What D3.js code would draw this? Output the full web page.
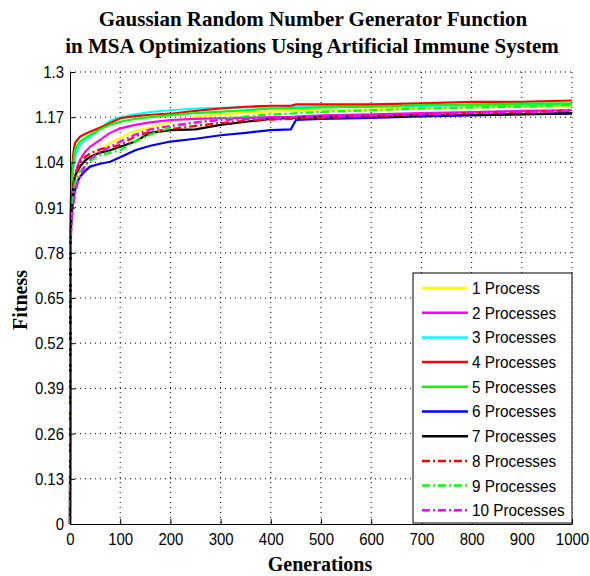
<!DOCTYPE html>
<html>
<head>
<meta charset="utf-8">
<script src="https://cdn.jsdelivr.net/npm/d3@7"></script>
<style>
  body { margin: 0; background: #fff; }
  .tick text, .leg text { font-family: "Liberation Sans", Arial, sans-serif; }
  .ttl { font-family: "Liberation Serif", "Times New Roman", serif; font-weight: bold; }
</style>
</head>
<body>
<svg id="chart" width="590" height="576"></svg>
<script>
const generations = [0, 1, 2, 4, 7, 10, 15, 20, 30, 40, 60, 80, 100, 130, 160, 200, 250, 300, 350, 400, 440, 450, 500, 600, 700, 800, 900, 1000];

const p1  = [0, 0.84, 0.88, 0.93, 0.97, 0.99, 1.01, 1.03, 1.045, 1.055, 1.075, 1.095, 1.11, 1.13, 1.14, 1.157, 1.17, 1.178, 1.183, 1.186, 1.188, 1.188, 1.19, 1.192, 1.195, 1.198, 1.2, 1.203];
const p2  = [0, 0.8, 0.86, 0.92, 0.97, 1.0, 1.03, 1.047, 1.07, 1.085, 1.105, 1.125, 1.138, 1.148, 1.155, 1.162, 1.165, 1.167, 1.168, 1.17, 1.17, 1.172, 1.175, 1.178, 1.182, 1.185, 1.188, 1.19];
const p3  = [0, 0.88, 0.93, 0.98, 1.03, 1.056, 1.075, 1.09, 1.105, 1.114, 1.135, 1.16, 1.17, 1.178, 1.185, 1.19, 1.195, 1.197, 1.198, 1.2, 1.2, 1.2, 1.201, 1.202, 1.203, 1.204, 1.205, 1.206];
const p4  = [0, 0.87, 0.95, 1.02, 1.07, 1.096, 1.105, 1.114, 1.122, 1.128, 1.14, 1.153, 1.167, 1.173, 1.177, 1.18, 1.188, 1.195, 1.2, 1.203, 1.203, 1.207, 1.207, 1.207, 1.21, 1.214, 1.214, 1.218];
const p5  = [0, 0.85, 0.93, 0.99, 1.04, 1.075, 1.09, 1.1, 1.11, 1.119, 1.135, 1.148, 1.157, 1.165, 1.17, 1.176, 1.182, 1.186, 1.19, 1.195, 1.196, 1.196, 1.198, 1.2, 1.205, 1.207, 1.209, 1.21];
const p6  = [0, 0.8, 0.85, 0.9, 0.94, 0.96, 0.985, 0.999, 1.015, 1.028, 1.036, 1.042, 1.055, 1.075, 1.088, 1.1, 1.108, 1.118, 1.125, 1.133, 1.135, 1.162, 1.165, 1.168, 1.172, 1.175, 1.178, 1.18];
const p7  = [0, 0.82, 0.87, 0.93, 0.98, 1.0, 1.015, 1.028, 1.045, 1.056, 1.068, 1.075, 1.085, 1.1, 1.125, 1.133, 1.135, 1.148, 1.157, 1.165, 1.168, 1.168, 1.17, 1.173, 1.175, 1.177, 1.179, 1.182];
const p8  = [0, 0.83, 0.88, 0.93, 0.98, 1.0, 1.02, 1.04, 1.055, 1.066, 1.078, 1.085, 1.09, 1.115, 1.128, 1.135, 1.145, 1.153, 1.16, 1.163, 1.165, 1.166, 1.168, 1.172, 1.178, 1.182, 1.185, 1.19];
const p9  = [0, 0.8, 0.85, 0.9, 0.95, 0.98, 1.0, 1.015, 1.03, 1.045, 1.06, 1.068, 1.075, 1.1, 1.12, 1.14, 1.155, 1.165, 1.172, 1.178, 1.18, 1.182, 1.185, 1.19, 1.195, 1.198, 1.2, 1.205];
const p10 = [0, 0.78, 0.83, 0.88, 0.92, 0.95, 0.98, 1.0, 1.03, 1.05, 1.07, 1.085, 1.1, 1.12, 1.135, 1.145, 1.155, 1.162, 1.165, 1.168, 1.17, 1.17, 1.172, 1.175, 1.178, 1.182, 1.185, 1.188];

const seriesNames = ["1 Process", "2 Processes", "3 Processes", "4 Processes", "5 Processes",
                     "6 Processes", "7 Processes", "8 Processes", "9 Processes", "10 Processes"];
const seriesColors = ["#ffff00", "#ff00ff", "#00ffff", "#ff0000", "#00ff00",
                      "#0000ff", "#000000", "#ff0000", "#00ff00", "#ff00ff"];
const seriesDash = [null, null, null, null, null, null, null, "8,3,2,3", "8,3,2,3", "8,3,2,3"];
const seriesValues = [p1, p2, p3, p4, p5, p6, p7, p8, p9, p10];

const xTicks = [0, 100, 200, 300, 400, 500, 600, 700, 800, 900, 1000];
const yTicks = [0, 0.13, 0.26, 0.39, 0.52, 0.65, 0.78, 0.91, 1.04, 1.17, 1.3];
const yTickLabels = ["0", "0.13", "0.26", "0.39", "0.52", "0.65", "0.78", "0.91", "1.04", "1.17", "1.3"];

const svg = d3.select("#chart");
const margin = {top: 72, right: 18, bottom: 52, left: 70};
const width = 590 - margin.left - margin.right;
const height = 576 - margin.top - margin.bottom;
const squeeze = 0.88; // narrow sans look of the original
const legSqueeze = 0.9;

const g = svg.append("g").attr("transform", "translate(" + margin.left + "," + margin.top + ")");

const x = d3.scaleLinear().domain([0, 1000]).range([0, width]);
const y = d3.scaleLinear().domain([0, 1.3]).range([height, 0]);

// dotted grid
g.append("g").selectAll("line")
    .data(xTicks.slice(1))
    .enter().append("line")
    .attr("x1", d => x(d)).attr("x2", d => x(d))
    .attr("y1", 0).attr("y2", height)
    .attr("stroke", "#000").attr("stroke-width", 1).attr("stroke-dasharray", "1,4");
g.append("g").selectAll("line")
    .data(yTicks.slice(1))
    .enter().append("line")
    .attr("x1", 0).attr("x2", width)
    .attr("y1", d => y(d)).attr("y2", d => y(d))
    .attr("stroke", "#000").attr("stroke-width", 1).attr("stroke-dasharray", "1,4");

// curves
const line = d3.line()
    .x((d, i) => x(generations[i]))
    .y(d => y(d));

seriesValues.forEach((vals, k) => {
    g.append("path")
        .datum(vals)
        .attr("fill", "none")
        .attr("stroke", seriesColors[k])
        .attr("stroke-width", 2.2)
        .attr("stroke-dasharray", seriesDash[k])
        .attr("d", line);
});

// axes (inward ticks, box off)
const xAxis = g.append("g")
    .attr("transform", "translate(0," + height + ")")
    .call(d3.axisBottom(x).tickValues(xTicks).tickSize(-5).tickSizeOuter(0).tickPadding(9).tickFormat(d3.format("d")));
const yAxis = g.append("g")
    .call(d3.axisLeft(y).tickValues(yTicks).tickSize(-5).tickSizeOuter(0).tickPadding(6)
        .tickFormat((d, i) => yTickLabels[i]));
[xAxis, yAxis].forEach(a => {
    a.selectAll("text")
        .attr("font-size", 17).attr("fill", "#000")
        .attr("x", function() { return +d3.select(this).attr("x") / squeeze; })
        .attr("transform", "scale(" + squeeze + ",1)");
    a.select(".domain").attr("stroke", "#000");
    a.selectAll(".tick line").attr("stroke", "#000");
});

// legend
const leg = g.append("g").attr("class", "leg")
    .attr("transform", "translate(" + (413 - margin.left) + "," + (273 - margin.top) + ")");
leg.append("rect")
    .attr("width", 159).attr("height", 250)
    .attr("fill", "#fff").attr("stroke", "#000").attr("stroke-width", 1);
seriesNames.forEach((name, k) => {
    const yy = 15 + k * 24.7;
    leg.append("line")
        .attr("x1", 9).attr("x2", 55)
        .attr("y1", yy).attr("y2", yy)
        .attr("stroke", seriesColors[k])
        .attr("stroke-width", 2.5)
        .attr("stroke-dasharray", seriesDash[k]);
    leg.append("text")
        .attr("x", 59 / legSqueeze).attr("y", yy + 6)
        .attr("transform", "scale(" + legSqueeze + ",1)")
        .attr("font-size", 17)
        .text(name);
});

// title and labels
svg.append("text").attr("class", "ttl")
    .attr("x", 313).attr("y", 26)
    .attr("text-anchor", "middle").attr("font-size", 21)
    .text("Gaussian Random Number Generator Function");
svg.append("text").attr("class", "ttl")
    .attr("x", 312).attr("y", 53)
    .attr("text-anchor", "middle").attr("font-size", 21)
    .text("in MSA Optimizations Using Artificial Immune System");
svg.append("text").attr("class", "ttl")
    .attr("x", 320).attr("y", 571)
    .attr("text-anchor", "middle").attr("font-size", 20)
    .text("Generations");
svg.append("text").attr("class", "ttl")
    .attr("transform", "translate(27,300) rotate(-90)")
    .attr("text-anchor", "middle").attr("font-size", 20)
    .text("Fitness");
</script>
</body>
</html>
